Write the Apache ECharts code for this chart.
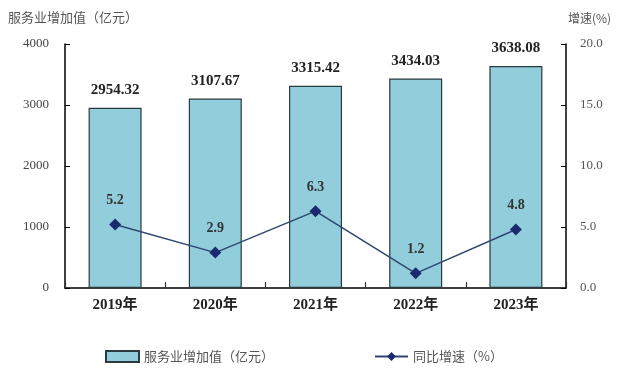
<!DOCTYPE html>
<html>
<head>
<meta charset="utf-8">
<script src="https://cdn.jsdelivr.net/npm/echarts@6/dist/echarts.min.js"></script>
<style>
  html, body { margin: 0; padding: 0; background: #fff; }
  #chart { width: 629px; height: 376px; }
</style>
</head>
<body>
<div id="chart"></div>
<script>
// 数据
var years = ['2019年', '2020年', '2021年', '2022年', '2023年']
var addedValue = [2954.32, 3107.67, 3315.42, 3434.03, 3638.08]
var growthRate = [5.2, 2.9, 6.3, 1.2, 4.8]
var leftTicks = ['0', '1000', '2000', '3000', '4000']
var rightTicks = ['0.0', '5.0', '10.0', '15.0', '20.0']

var serif = '"Liberation Serif", "Noto Sans CJK SC", serif'
var cjk = '"Noto Sans CJK SC", sans-serif'

var myChart = echarts.init(document.getElementById('chart'))
myChart.setOption({
  animation: false,
  grid: {
    left: 65,
    right: 63,
    top: 44,
    bottom: 88
  },
  legend: {
    bottom: 8,
    left: 100,
    itemGap: 100,
    itemWidth: 33,
    itemHeight: 11,
    textStyle: { color: '#555', fontSize: 13, fontFamily: cjk },
    data: [
      { name: '服务业增加值（亿元）', icon: 'rect' },
      { name: '同比增速（%）' }
    ]
  },
  xAxis: {
    type: 'category',
    data: years,
    axisLine: { lineStyle: { color: '#000', width: 1.5 } },
    axisTick: { show: true, inside: true, length: 6, lineStyle: { color: '#333', width: 1.2 } },
    axisLabel: {
      color: '#222',
      fontSize: 15,
      fontWeight: 'bold',
      fontFamily: serif,
      margin: 10
    }
  },
  yAxis: [
    {
      type: 'value',
      name: '服务业增加值（亿元）',
      nameLocation: 'end',
      nameGap: 20,
      nameTextStyle: { color: '#555', fontSize: 13, fontFamily: cjk, align: 'left', padding: [0, 0, 0, -57] },
      min: 0,
      max: 4000,
      interval: 1000,
      axisLine: { show: true, lineStyle: { color: '#000', width: 1.5 } },
      axisTick: { show: true, inside: true, length: 5, lineStyle: { color: '#000' } },
      axisLabel: {
        color: '#444',
        fontSize: 13,
        fontFamily: serif,
        margin: 16,
        formatter: function (v, i) { return leftTicks[i] }
      },
      splitLine: { show: false }
    },
    {
      type: 'value',
      name: '增速(%)',
      nameLocation: 'end',
      nameGap: 20,
      nameTextStyle: { color: '#555', fontSize: 12, fontFamily: cjk, align: 'left', padding: [0, 0, 0, 2] },
      min: 0,
      max: 20,
      interval: 5,
      axisLine: { show: true, lineStyle: { color: '#000', width: 1.5 } },
      axisTick: { show: true, inside: true, length: 5, lineStyle: { color: '#000' } },
      axisLabel: {
        color: '#555',
        fontSize: 13,
        fontFamily: serif,
        margin: 14,
        formatter: function (v, i) { return rightTicks[i] }
      },
      splitLine: { show: false }
    }
  ],
  series: [
    {
      name: '服务业增加值（亿元）',
      type: 'bar',
      data: addedValue,
      barWidth: 53,
      itemStyle: {
        color: '#92CDDC',
        borderColor: '#2b3a3e',
        borderWidth: 1.2
      },
      label: {
        show: true,
        position: 'top',
        distance: 10,
        color: '#222',
        fontSize: 15,
        fontWeight: 'bold',
        fontFamily: serif,
        formatter: function (p) { return p.value.toFixed(2) }
      }
    },
    {
      name: '同比增速（%）',
      type: 'line',
      yAxisIndex: 1,
      data: growthRate,
      symbol: 'diamond',
      symbolSize: 12,
      lineStyle: { color: '#2E4670', width: 1.5 },
      itemStyle: { color: '#1A2A6E' },
      label: {
        show: true,
        position: 'top',
        distance: 11,
        color: '#333',
        fontSize: 14,
        fontWeight: 'bold',
        fontFamily: serif,
        formatter: function (p) { return p.value.toFixed(1) }
      }
    }
  ]
})
</script>
</body>
</html>
